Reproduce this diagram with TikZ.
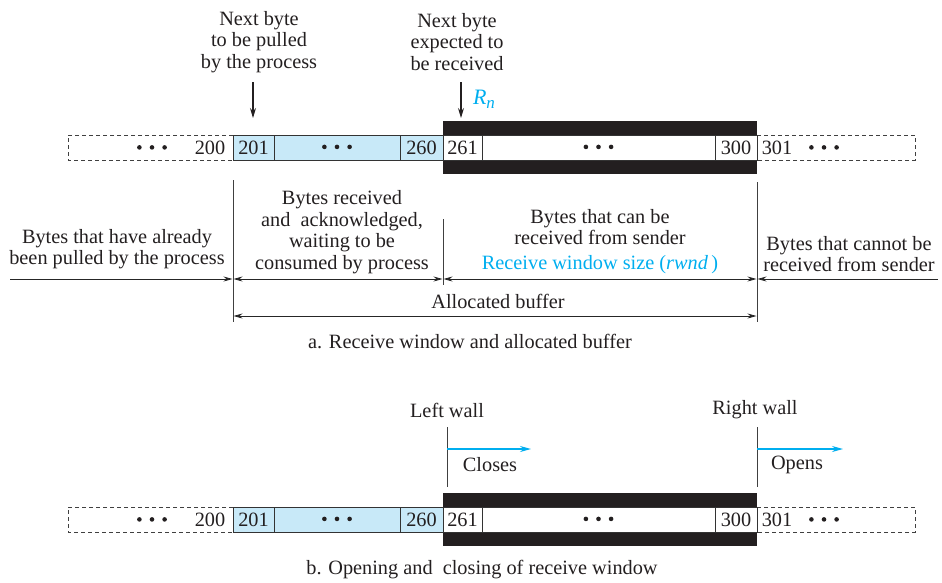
\documentclass[tikz,border=0pt]{standalone}
\usepackage{fontspec}
\setmainfont{Liberation Serif}
\usetikzlibrary{arrows.meta}
\definecolor{lblue}{RGB}{200,233,248}
\definecolor{cyanx}{RGB}{0,174,239}
\definecolor{band}{RGB}{35,31,32}
\definecolor{ink}{RGB}{35,31,32}
\newcommand{\onedot}{\tikz[baseline=-3.5pt]\fill[ink] (0,0) circle (2.3pt);}
\newcommand{\threedots}{\onedot\hspace{8pt}\onedot\hspace{8pt}\onedot}
\newcommand{\drawstrip}{%
  \fill[lblue] (233,135) rectangle (443,160);
  \fill[band] (443,121) rectangle (757,174);
  \fill[white] (443.5,135) rectangle (757,160);
  \draw[dashedbox] (233,135) -- (68,135) -- (68,160) -- (233,160);
  \draw[dashedbox] (757,135) -- (915,135) -- (915,160) -- (757,160);
  \node[cellbox, minimum width=41pt] (c201) at (253.5,147.5) {201};
  \node[cellbox, minimum width=126pt] (cm1) at (337,147.5) {\threedots};
  \node[cellbox, minimum width=43pt] (c260) at (421.5,147.5) {260};
  \node[cellbox, minimum width=39pt] (c261) at (462.5,147.5) {261};
  \node[cellbox, minimum width=233pt] (cm2) at (598.5,147.5) {\threedots};
  \node[cellbox, minimum width=42pt] (c300) at (736,147.5) {300};
  \node[txt] (c200) at (210,147.5) {200};
  \node[txt] (dl) at (152,148) {\threedots};
  \node[txt] (c301) at (777,147.5) {301};
  \node[txt] (dr) at (824,148) {\threedots};
}
\begin{document}
\begin{tikzpicture}[x=1pt,y=-1pt,
  font=\fontsize{20.3}{21.5}\selectfont,
  txt/.style={inner sep=0pt, align=center, text=ink},
  cellbox/.style={draw=black!80, line width=0.8pt, minimum height=25pt, inner sep=0pt, outer sep=0pt, text=ink},
  dashedbox/.style={dash pattern=on 4pt off 3pt, line width=0.8pt, black!75},
  tick/.style={line width=0.9pt, black!75},
  dimarrow/.style={line width=0.8pt, black!85, {Stealth[length=9pt,width=5pt]}-{Stealth[length=9pt,width=5pt]}},
  onearrow/.style={line width=0.8pt, black!85, -{Stealth[length=9pt,width=5pt]}},
  ptr/.style={line width=1.1pt, ink, -{Stealth[length=10pt,width=6pt]}},
  bluearrow/.style={line width=1.3pt, cyanx, -{Stealth[length=11pt,width=6pt]}}
]
\useasboundingbox (0,0) rectangle (942,582);

% ---------- part a ----------
\begin{scope}[name prefix=a-]
\drawstrip
\end{scope}

\node[txt] (t1) at (259,42) {Next byte\\to be pulled\\by the process};
\node[txt] (t2) at (457,42) {Next byte\\expected to\\be received};
\coordinate (p1s) at (253,82);
\coordinate (p2s) at (461,82);
\draw[ptr] (p1s) -- (253,118);
\draw[ptr] (p2s) -- (461,118);
\node[txt, text=cyanx] (rn) at (484,99) {\fontsize{22}{22}\selectfont\textit{R}\raisebox{-4pt}{\fontsize{17}{17}\selectfont\textit{n}}};

% walls
\coordinate (w1t) at (233,180); \coordinate (w1b) at (233,322);
\coordinate (w2t) at (443,219); \coordinate (w2b) at (443,285);
\coordinate (w3t) at (757,182); \coordinate (w3b) at (757,322);
\draw[tick] (w1t) -- (w1b);
\draw[tick] (w2t) -- (w2b);
\draw[tick] (w3t) -- (w3b);

\coordinate (r1a) at (10,279);  \coordinate (r1b) at (232.5,279);
\coordinate (r2a) at (233.5,279); \coordinate (r2b) at (442.5,279);
\coordinate (r3a) at (443.5,279); \coordinate (r3b) at (756.5,279);
\coordinate (r4a) at (938,279);  \coordinate (r4b) at (757.5,279);
\coordinate (r5a) at (233.5,316); \coordinate (r5b) at (756.5,316);
\draw[onearrow] (r1a) -- (r1b);
\draw[dimarrow] (r2a) -- (r2b);
\draw[dimarrow] (r3a) -- (r3b);
\draw[onearrow] (r4a) -- (r4b);
\draw[dimarrow] (r5a) -- (r5b);

\node[txt] (l1) at (117,249) {Bytes that have already\\been pulled by the process};
\node[txt] (l2) at (342,232) {Bytes received\\and\ \ acknowledged,\\waiting to be\\consumed by process};
\node[txt] (l3) at (600,227) {Bytes that can be\\received from sender};
\node[txt, text=cyanx] (l4) at (600,265) {Receive window size (\textit{rwnd}\,)};
\node[txt] (l5) at (849,254) {Bytes that cannot be\\received from sender};
\node[txt] (l6) at (498,301) {Allocated buffer};
\node[txt] (capa) at (470,341) {a. Receive window and allocated buffer};

% ---------- part b ----------
\begin{scope}[yshift=-372pt, name prefix=b-]
\drawstrip
\end{scope}

\node[txt] (lw) at (447,410) {Left wall};
\node[txt] (rw) at (755,410) {Right wall};
\coordinate (lwt) at (447,427); \coordinate (lwb) at (447,487);
\coordinate (rwt) at (757,427); \coordinate (rwb) at (757,487);
\draw[tick] (lwt) -- (lwb);
\draw[tick] (rwt) -- (rwb);
\coordinate (ca) at (447,449); \coordinate (cb) at (531,449);
\coordinate (oa) at (757,449); \coordinate (ob) at (843,449);
\draw[bluearrow] (ca) -- (cb);
\draw[bluearrow] (oa) -- (ob);
\node[txt] (cl) at (490,465) {Closes};
\node[txt] (op) at (797,465) {Opens};
\node[txt] (capb) at (482,570) {b. Opening and\ \ closing of receive window};
\end{tikzpicture}
\end{document}
